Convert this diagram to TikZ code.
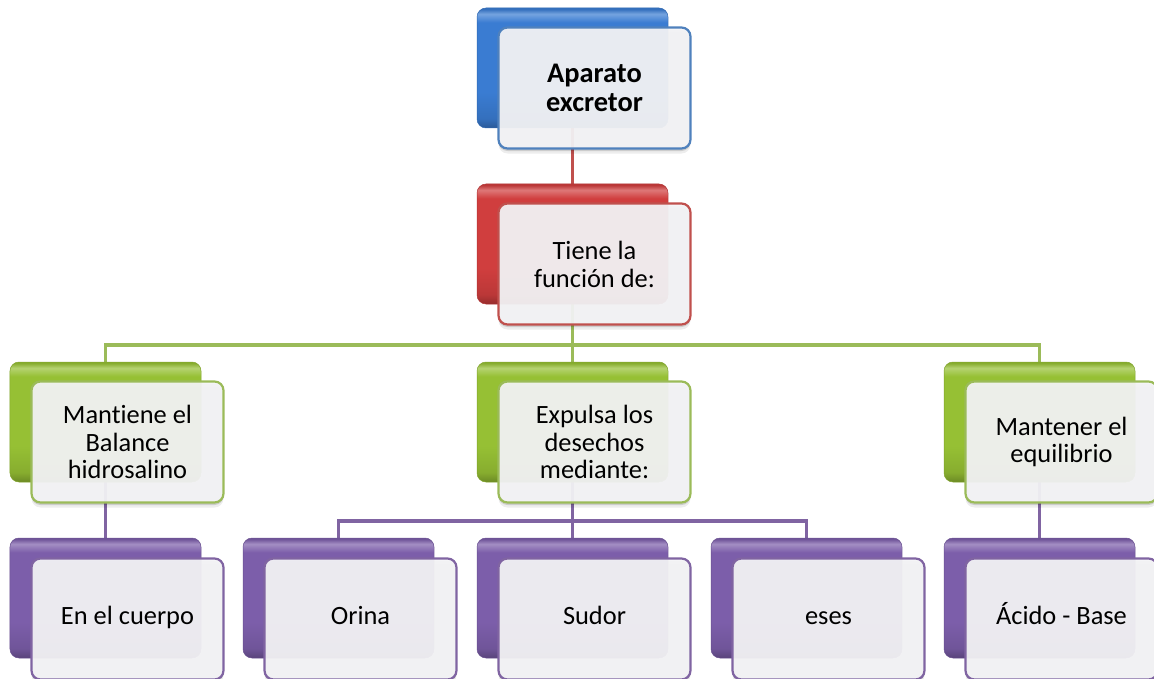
\documentclass[tikz,border=0pt]{standalone}
\usepackage{fontspec}
\setmainfont{Carlito}[Ligatures={NoCommon}]
\usetikzlibrary{backgrounds,shadows}
\definecolor{cblue}{RGB}{79,129,189}
\definecolor{cred}{RGB}{192,80,77}
\definecolor{cgreen}{RGB}{155,187,89}
\definecolor{cpurple}{RGB}{128,100,162}
\definecolor{frontfill}{RGB}{244,244,246}
\definecolor{mblue}{RGB}{58,124,210}
\definecolor{mred}{RGB}{208,62,62}
\definecolor{mgreen}{RGB}{150,192,52}
\definecolor{mpurple}{RGB}{124,94,170}
\newcommand\mkshade[1]{%
  \colorlet{#1dk}{#1!72!black}\colorlet{#1md}{#1!90!black}\colorlet{#1lt}{#1!70!white}%
  \pgfdeclareverticalshading{sh#1}{100bp}{color(0bp)=(#1dk); color(25bp)=(#1dk); color(29bp)=(#1md); color(40bp)=(#1); color(69bp)=(#1); color(72.5bp)=(#1lt); color(74.5bp)=(#1md); color(75bp)=(#1md); color(100bp)=(#1md)}}
\mkshade{mblue}\mkshade{mred}\mkshade{mgreen}\mkshade{mpurple}
\begin{document}
\begin{tikzpicture}[x=1bp,y=-1bp,
  backbox/.style={rectangle, rounded corners=9bp, minimum width=191bp, minimum height=120bp, inner sep=0pt,
    shading=sh#1, draw=#1!85!black, line width=0.5bp},
  frontbox/.style={rectangle, rounded corners=9bp, minimum width=192bp, minimum height=121bp, inner sep=0pt,
    draw=#1, line width=2.2bp, fill=frontfill, fill opacity=0.94, text opacity=1, align=center,
    general shadow={shadow yshift=-2.5bp, fill=black, opacity=0.14},
    general shadow={shadow yshift=-5bp, fill=black, opacity=0.07},
    font=\fontsize{26.5}{28}\selectfont},
  conn/.style={line width=3.6bp, draw=#1}
]
\useasboundingbox (0,0) rectangle (1154,679);

% level 0
\node[backbox=mblue] (b0) at (572.5,68) {};
\node[frontbox=cblue, font=\fontsize{28.5}{29}\selectfont\bfseries] (f0) at (594.5,88) {Aparato\\excretor};
% level 1
\node[backbox=mred] (b1) at (572.5,244) {};
\node[frontbox=cred] (f1) at (594.5,264) {Tiene la\\función de:};
% level 2
\node[backbox=mgreen] (b2a) at (105.5,422) {};
\node[frontbox=cgreen] (f2a) at (127.5,442) {Mantiene el\\Balance\\hidrosalino};
\node[backbox=mgreen] (b2b) at (572.5,422) {};
\node[frontbox=cgreen] (f2b) at (594.5,442) {Expulsa los\\desechos\\mediante:};
\node[backbox=mgreen] (b2c) at (1039.5,422) {};
\node[frontbox=cgreen] (f2c) at (1061.5,442) {Mantener el\\equilibrio};
% level 3
\node[backbox=mpurple] (b3a) at (105.5,598) {};
\node[frontbox=cpurple] (f3a) at (127.5,619) {\strut En el cuerpo};
\node[backbox=mpurple] (b3b) at (338.5,598) {};
\node[frontbox=cpurple] (f3b) at (360.5,619) {\strut Orina};
\node[backbox=mpurple] (b3c) at (572.5,598) {};
\node[frontbox=cpurple] (f3c) at (594.5,619) {\strut Sudor};
\node[backbox=mpurple] (b3d) at (806.5,598) {};
\node[frontbox=cpurple] (f3d) at (828.5,619) {\strut eses};
\node[backbox=mpurple] (b3e) at (1039.5,598) {};
\node[frontbox=cpurple] (f3e) at (1061.5,619) {\strut\smash{Á}cido - Base};

\begin{pgfonlayer}{background}
  \draw[conn=cred] (b0.center) -- (b1.north);
  \coordinate (gbar) at (572.5,345);
  \draw[conn=cgreen] (b1.center) -- (gbar);
  \draw[conn=cgreen] (b2a.north) |- (gbar) -| (b2c.north);
  \draw[conn=cgreen] (gbar) -- (b2b.north);
  \draw[conn=cpurple] (b2a.center) -- (b3a.north);
  \coordinate (pbar) at (572.5,521);
  \draw[conn=cpurple] (b2b.center) -- (pbar);
  \draw[conn=cpurple] (b3b.north) |- (pbar) -| (b3d.north);
  \draw[conn=cpurple] (pbar) -- (b3c.north);
  \draw[conn=cpurple] (b2c.center) -- (b3e.north);
\end{pgfonlayer}
\end{tikzpicture}
\end{document}
